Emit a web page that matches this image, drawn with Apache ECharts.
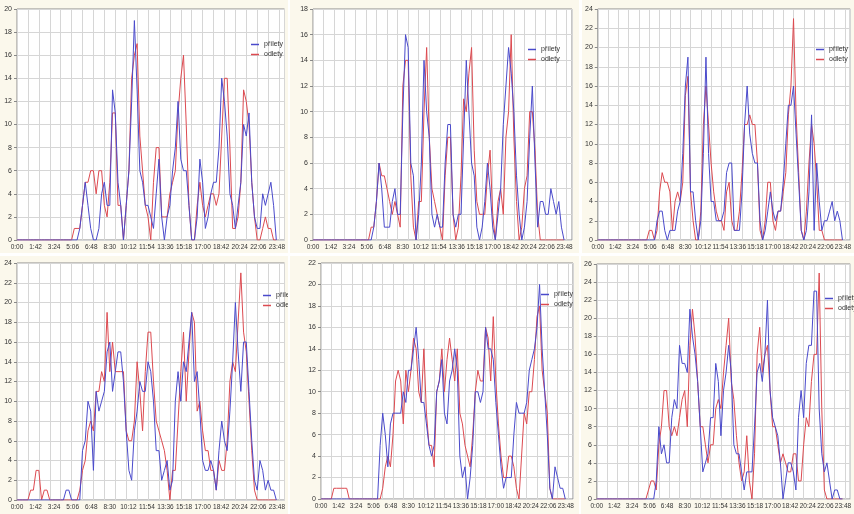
<!DOCTYPE html>
<html><head><meta charset="utf-8">
<script src="https://cdn.jsdelivr.net/npm/echarts@6/dist/echarts.min.js"></script>
<style>
html,body{margin:0;padding:0;background:#fff;width:854px;height:514px;overflow:hidden}
.p{position:absolute;background:#fbf8ec;overflow:hidden}
</style></head><body>
<div id="c1" class="p" style="left:0;top:0;width:288px;height:253px"></div>
<div id="c2" class="p" style="left:290px;top:0;width:289px;height:253px"></div>
<div id="c3" class="p" style="left:582px;top:0;width:272px;height:253px"></div>
<div id="c4" class="p" style="left:0;top:256px;width:288px;height:258px"></div>
<div id="c5" class="p" style="left:290px;top:256px;width:289px;height:258px"></div>
<div id="c6" class="p" style="left:581px;top:256px;width:273px;height:258px"></div>
<script>
// time of each sample in minutes (15-minute steps, 0:00 .. 23:45)
const minutes = Array.from({length: 96}, (_, i) => i * 15);
const xTickLabels = ['0:00','1:42','3:24','5:06','6:48','8:30','10:12','11:54','13:36','15:18','17:00','18:42','20:24','22:06','23:48'];
const seriesNames = ['přílety', 'odlety'];
const yMax = [20, 18, 24, 24, 22, 26];

const prilety1 = [0,0,0,0,0,0,0,0,0,0, 0,0,0,0,0,0,0,0,0,0, 0,0,0,1,3,5,3,1,0,0, 1,4,5,3,3,13,11,5,3,0, 3,6,12,19,13,6,5,3,3,2, 1,4,7,2,0,2,3,6,8,12, 7,6,6,3,0,0,2,7,5,1, 2,4,5,5,8,14,12,9,4,3, 1,3,5,10,9,11,5,2,1,1, 4,3,4,5,3,0];
const odlety1  = [0,0,0,0,0,0,0,0,0,0, 0,0,0,0,0,0,0,0,0,0, 0,1,1,1,3,5,5,6,6,4, 6,6,3,2,5,11,11,3,3,0, 3,6,14,16,17,9,6,3,2,0, 5,8,8,2,2,2,4,5,6,11, 14,16,10,3,0,0,3,5,3,2, 3,4,4,3,4,9,14,14,8,1, 1,2,5,13,12,10,5,2,0,0, 1,2,1,1,0,0];
const prilety2 = [0,0,0,0,0,0,0,0,0,0, 0,0,0,0,0,0,0,0,0,0, 0,0,0,1,3,6,4,1,1,1, 3,4,2,2,10,16,15,6,5,0, 2,6,14,10,8,2,1,2,1,1, 6,9,9,2,1,2,2,8,14,10, 6,5,1,0,1,3,6,4,1,0, 2,4,9,12,15,13,10,5,2,0, 1,3,8,12,6,1,3,3,2,2, 4,3,2,3,1,0];
const odlety2  = [0,0,0,0,0,0,0,0,0,0, 0,0,0,0,0,0,0,0,0,0, 0,0,1,1,3,6,5,5,4,3, 2,3,2,1,12,14,14,5,1,0, 3,3,10,15,8,4,3,2,1,0, 5,8,8,2,0,1,5,11,10,13, 15,7,3,2,2,2,5,7,2,0, 3,4,2,8,10,16,8,3,0,1, 4,5,10,10,7,2,0,0,0,0, 0,0,0,0,0,0];
const prilety3 = [0,0,0,0,0,0,0,0,0,0, 0,0,0,0,0,0,0,0,0,0, 0,0,0,2,3,3,1,0,1,1, 1,3,4,9,16,19,5,5,2,0, 2,9,19,9,4,4,2,2,2,3, 7,8,8,1,1,1,5,12,16,11, 9,8,8,2,0,1,3,5,3,2, 3,3,6,10,14,14,16,11,6,1, 0,1,5,13,1,8,4,1,2,2, 3,4,2,3,2,0];
const odlety3  = [0,0,0,0,0,0,0,0,0,0, 0,0,0,0,0,0,0,0,0,0, 1,1,0,1,5,7,6,6,5,1, 4,5,4,6,15,17,5,2,0,0, 3,12,16,12,8,5,3,2,2,1, 5,6,2,1,1,3,7,12,12,13, 12,12,8,1,0,2,6,6,2,1, 3,3,5,7,13,16,23,13,7,1, 0,3,8,12,10,6,1,1,0,0, 0,0,0,0,0,0];
const prilety4 = [0,0,0,0,0,0,0,0,0,0, 0,0,0,0,0,0,0,0,1,1, 0,0,0,0,5,6,10,9,3,11, 9,10,11,15,16,11,13,15,15,12, 7,3,2,7,9,12,11,11,14,13, 10,5,5,2,3,4,1,2,10,13, 10,14,13,16,19,12,13,9,4,3, 3,4,3,1,5,8,6,5,9,14, 20,15,11,16,16,11,6,2,1,4, 3,1,2,1,1,0];
const odlety4  = [0,0,0,0,0,1,1,3,3,0, 1,1,0,0,0,0,0,0,0,0, 0,0,0,1,3,4,7,8,7,11, 11,13,12,19,13,16,13,13,13,13, 7,6,6,8,14,11,7,13,17,17, 12,8,7,6,5,3,0,3,3,8, 13,17,10,15,19,18,9,10,7,5, 5,3,3,1,4,3,3,6,12,14, 13,18,23,17,15,10,5,1,0,0, 0,0,0,0,0,0];
const prilety5 = [0,0,0,0,0,0,0,0,0,0, 0,0,0,0,0,0,0,0,0,0, 0,0,0,5,8,6,3,7,8,8, 8,8,10,9,12,12,14,16,13,9, 9,7,5,4,5,10,11,13,8,7, 11,12,14,12,4,2,3,0,2,5, 10,10,9,10,16,14,14,13,9,6, 3,1,2,2,2,6,9,8,8,8, 9,12,13,14,16,20,14,10,6,1, 0,3,2,1,1,0];
const odlety5  = [0,0,0,0,0,1,1,1,1,1, 1,0,0,0,0,0,0,0,0,0, 0,0,0,0,1,3,4,3,6,11, 12,11,7,12,10,12,15,14,10,9, 14,8,5,5,3,10,11,14,10,13, 15,13,11,14,8,7,5,4,3,6, 10,12,11,11,16,15,11,17,11,7, 4,2,2,4,4,3,1,0,4,8, 7,10,10,13,17,18,12,10,8,1, 0,0,0,0,0,0];
const prilety6 = [0,0,0,0,0,0,0,0,0,0, 0,0,0,0,0,0,0,0,0,0, 0,0,0,2,8,5,6,4,4,9, 11,10,17,15,15,14,21,18,16,13, 8,3,4,5,9,9,15,13,7,12, 14,17,14,6,5,5,3,1,3,3, 3,8,14,15,13,16,22,12,9,8, 7,4,0,2,4,4,3,1,9,12, 9,15,17,17,23,23,10,5,3,4, 2,0,1,1,0,0];
const odlety6  = [0,0,0,0,0,0,0,0,0,0, 0,0,0,0,0,0,0,0,0,0, 1,2,2,1,6,8,12,12,8,7, 8,7,9,11,12,8,17,21,18,13, 8,8,6,4,6,6,10,11,10,14, 17,20,13,11,7,4,2,3,7,2, 0,5,16,19,14,16,17,12,8,8, 6,4,5,4,3,3,5,5,2,2, 6,9,8,13,16,16,25,10,1,0, 0,0,0,0,0,0];

const arrivals = [prilety1, prilety2, prilety3, prilety4, prilety5, prilety6];
const departures = [odlety1, odlety2, odlety3, odlety4, odlety5, odlety6];

// layout of each panel (local pixels inside its box)
const layout = [
  {l:17, t:9, w:269, h:231, lx:251, ly:41},
  {l:23, t:9, w:259, h:231, lx:238, ly:46},
  {l:12, t:9, w:262, h:231, lx:234, ly:46},
  {l:17, t:7, w:281, h:237, lx:263, ly:36},
  {l:31, t:7, w:252, h:236, lx:251, ly:35},
  {l:12, t:8, w:262, h:235, lx:244, ly:39}
];
const XMAX = 1470;
const BLUE = '#4a4acb', RED = '#dc4a50';
const FONT = "'Liberation Sans',Arial,sans-serif";

function build(k) {
  const p = layout[k];
  return {
    animation: false,
    grid: {left: p.l, top: p.t, width: p.w, height: p.h, show: true, backgroundColor: '#fff', borderColor: '#8c8c8c', borderWidth: 1},
    xAxis: [
      {type: 'value', min: 0, max: XMAX, interval: 102,
       axisLine: {show: false}, axisTick: {show: false}, splitLine: {show: false},
       axisLabel: {fontSize: 6.5, color: '#333', margin: 4, fontFamily: FONT, hideOverlap: false,
         formatter: v => (v % 102 === 0 && xTickLabels[v / 102]) ? xTickLabels[v / 102] : ''}},
      {type: 'value', min: 0, max: XMAX, interval: 60, position: 'bottom',
       axisLine: {show: false}, axisTick: {show: false}, axisLabel: {show: false},
       splitLine: {show: true, lineStyle: {color: '#d6d6d6', width: 1}}}
    ],
    yAxis: {type: 'value', min: 0, max: yMax[k], interval: 2,
      axisLine: {show: false}, axisTick: {show: true, length: 3, lineStyle: {color: '#888'}},
      axisLabel: {fontSize: 7, color: '#333', margin: 5, fontFamily: FONT},
      splitLine: {show: true, lineStyle: {color: '#d6d6d6', width: 1}}},
    legend: {orient: 'vertical', left: p.lx, top: p.ly, padding: 0, icon: 'rect', itemWidth: 8, itemHeight: 1.5, itemGap: 3,
      textStyle: {fontSize: 7, color: '#333', fontFamily: FONT}, data: seriesNames},
    series: [
      {name: seriesNames[0], type: 'line', xAxisIndex: 0, symbol: 'none', data: minutes.map((m, i) => [m, arrivals[k][i]]),
       lineStyle: {width: 1, color: BLUE}, itemStyle: {color: BLUE}, z: 3},
      {name: seriesNames[1], type: 'line', xAxisIndex: 0, symbol: 'none', data: minutes.map((m, i) => [m, departures[k][i]]),
       lineStyle: {width: 1, color: RED}, itemStyle: {color: RED}, z: 2}
    ]
  };
}
for (let k = 0; k < 6; k++) {
  const chart = echarts.init(document.getElementById('c' + (k + 1)), null, {renderer: 'canvas'});
  chart.setOption(build(k));
}
</script>
</body></html>
